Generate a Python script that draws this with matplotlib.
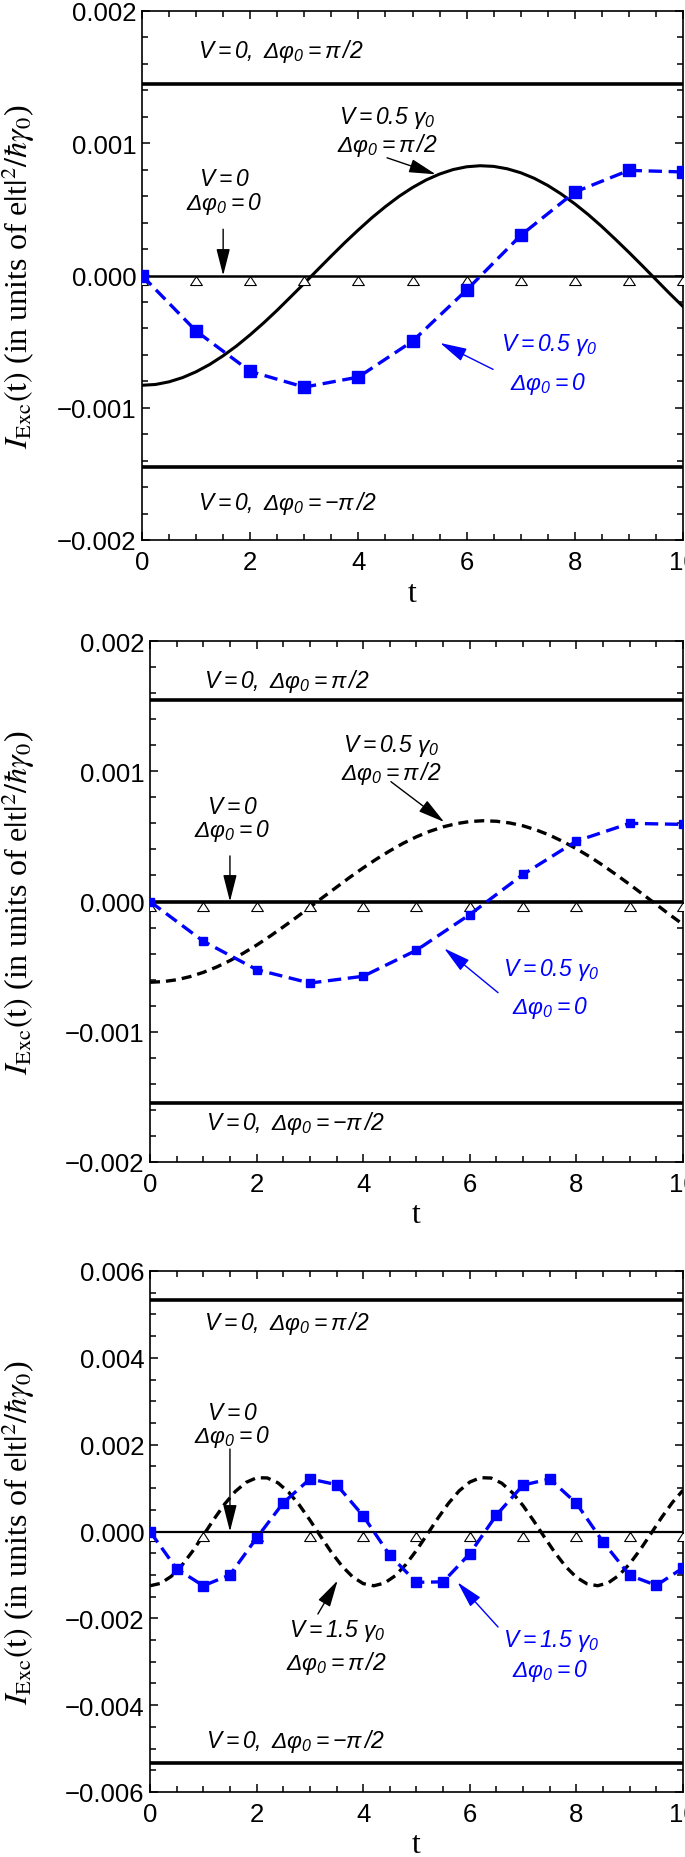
import matplotlib
matplotlib.use("Agg")
import matplotlib.pyplot as plt
from matplotlib.ticker import MultipleLocator, FuncFormatter

plt.rcParams['font.family'] = ['Liberation Sans', 'DejaVu Sans']
plt.rcParams['mathtext.fontset'] = 'custom'
plt.rcParams['mathtext.rm'] = 'Liberation Sans:italic'
plt.rcParams['mathtext.it'] = 'Liberation Sans:italic'
plt.rcParams['mathtext.bf'] = 'Liberation Sans:italic:bold'

BLUE = '#0000ff'

# ---- data ----
t_int = [0, 1, 2, 3, 4, 5, 6, 7, 8, 9, 10]
t_half = [0, 0.5, 1, 1.5, 2, 2.5, 3, 3.5, 4, 4.5, 5, 5.5, 6, 6.5, 7, 7.5, 8, 8.5, 9, 9.5, 10]
t_quarter = [0, 0.25, 0.5, 0.75, 1, 1.25, 1.5, 1.75, 2, 2.25, 2.5, 2.75, 3, 3.25, 3.5, 3.75,
             4, 4.25, 4.5, 4.75, 5, 5.25, 5.5, 5.75, 6, 6.25, 6.5, 6.75, 7, 7.25, 7.5, 7.75,
             8, 8.25, 8.5, 8.75, 9, 9.25, 9.5, 9.75, 10]
t_fine = [0.0, 0.2, 0.4, 0.6, 0.8, 1.0, 1.2, 1.4, 1.6, 1.8, 2.0, 2.2, 2.4, 2.6, 2.8,
          3.0, 3.2, 3.4, 3.6, 3.8, 4.0, 4.2, 4.4, 4.6, 4.8, 5.0, 5.2, 5.4, 5.6, 5.8,
          6.0, 6.2, 6.4, 6.6, 6.8, 7.0, 7.2, 7.4, 7.6, 7.8, 8.0, 8.2, 8.4, 8.6, 8.8,
          9.0, 9.2, 9.4, 9.6, 9.8, 10.0]

# zero-phase reference (V=0, dphi=0), open triangles
tri_y = [0, 0, 0, 0, 0, 0, 0, 0, 0, 0, 0]

# panel 1: V=0.5 gamma0
levels_1 = [1.45e-3, -1.45e-3]
black_1 = [-0.830e-3, -0.824e-3, -0.804e-3, -0.772e-3, -0.728e-3, -0.673e-3, -0.607e-3,
           -0.532e-3, -0.448e-3, -0.358e-3, -0.262e-3, -0.161e-3, -0.059e-3, 0.045e-3,
           0.148e-3, 0.249e-3, 0.345e-3, 0.437e-3, 0.521e-3, 0.598e-3, 0.665e-3, 0.722e-3,
           0.767e-3, 0.801e-3, 0.822e-3, 0.830e-3, 0.825e-3, 0.807e-3, 0.777e-3, 0.735e-3,
           0.681e-3, 0.616e-3, 0.542e-3, 0.460e-3, 0.370e-3, 0.274e-3, 0.175e-3, 0.073e-3,
           -0.031e-3, -0.135e-3, -0.235e-3]
blue_1 = [0.0, -0.42e-3, -0.725e-3, -0.844e-3, -0.768e-3, -0.497e-3, -0.11e-3,
          0.303e-3, 0.631e-3, 0.795e-3, 0.783e-3]

# panel 2: V=0.5 gamma0 (dashed)
levels_2 = [1.55e-3, -1.55e-3]
black_2 = [-0.620e-3, -0.615e-3, -0.601e-3, -0.577e-3, -0.544e-3, -0.503e-3, -0.454e-3,
           -0.397e-3, -0.335e-3, -0.267e-3, -0.195e-3, -0.121e-3, -0.044e-3, 0.034e-3,
           0.110e-3, 0.186e-3, 0.258e-3, 0.326e-3, 0.389e-3, 0.447e-3, 0.497e-3, 0.539e-3,
           0.573e-3, 0.598e-3, 0.614e-3, 0.620e-3, 0.616e-3, 0.603e-3, 0.581e-3, 0.549e-3,
           0.509e-3, 0.460e-3, 0.405e-3, 0.344e-3, 0.277e-3, 0.205e-3, 0.131e-3, 0.054e-3,
           -0.023e-3, -0.101e-3, -0.176e-3]
blue_2 = [0.0, -0.305e-3, -0.523e-3, -0.626e-3, -0.574e-3, -0.374e-3, -0.10e-3,
          0.208e-3, 0.464e-3, 0.60e-3, 0.592e-3]

# panel 3: V=1.5 gamma0
levels_3 = [5.33e-3, -5.33e-3]
black_3 = [-1.250e-3, -1.194e-3, -1.032e-3, -0.777e-3, -0.453e-3, -0.088e-3, 0.284e-3,
           0.631e-3, 0.922e-3, 1.130e-3, 1.238e-3, 1.234e-3, 1.121e-3, 0.907e-3,
           0.613e-3, 0.264e-3, -0.109e-3, -0.473e-3, -0.793e-3, -1.043e-3, -1.200e-3,
           -1.250e-3, -1.188e-3, -1.020e-3, -0.761e-3, -0.433e-3, -0.068e-3, 0.304e-3,
           0.649e-3, 0.936e-3, 1.139e-3, 1.240e-3, 1.231e-3, 1.112e-3, 0.893e-3,
           0.594e-3, 0.243e-3, -0.130e-3, -0.492e-3, -0.809e-3, -1.055e-3, -1.206e-3,
           -1.249e-3, -1.181e-3, -1.007e-3, -0.744e-3, -0.414e-3, -0.047e-3, 0.325e-3,
           0.667e-3, 0.950e-3]
blue_3 = [0.0, -0.86e-3, -1.25e-3, -1.0e-3, -0.15e-3, 0.66e-3, 1.21e-3, 1.08e-3, 0.36e-3,
          -0.55e-3, -1.17e-3, -1.16e-3, -0.51e-3, 0.38e-3, 1.07e-3, 1.21e-3, 0.65e-3,
          -0.24e-3, -1.01e-3, -1.24e-3, -0.84e-3]

TOP = r'$V=0,\ \Delta\varphi_0=\pi\,/2$'
BOT = r'$V=0,\ \Delta\varphi_0=-\pi\,/2$'
YLAB = r'$I_{\rm Exc}(\rm t)$ (in units of e$|$t$|^2/\hbar\gamma_0$)'

TRI = [(0, 0), (-0.65, -1), (0.65, -1), (0, 0)]

W, H = 685, 1858
fig = plt.figure(figsize=(W / 100, H / 100), dpi=100)


def make_axes(left, top, bottom):
    return fig.add_axes([left / W, 1 - bottom / H, (683 - left) / W, (bottom - top) / H])


def fmt(v, pos):
    s = '%.3f' % v
    if s == '-0.000':
        s = '0.000'
    return s.replace('-', '\u2212')


def style(ax, ylim, major, minor):
    ax.set_xlim(0, 10)
    ax.set_ylim(-ylim, ylim)
    ax.xaxis.set_major_locator(MultipleLocator(2))
    ax.xaxis.set_minor_locator(MultipleLocator(0.5))
    ax.yaxis.set_major_locator(MultipleLocator(major))
    ax.yaxis.set_minor_locator(MultipleLocator(minor))
    ax.yaxis.set_major_formatter(FuncFormatter(fmt))
    ax.tick_params(which='both', direction='in', top=True, right=True, width=1.1, labelsize=18.5)
    ax.tick_params(which='major', length=6)
    ax.tick_params(which='minor', length=4)
    ax.tick_params(axis='x', pad=7)
    ax.tick_params(axis='y', pad=4)
    for sp in ax.spines.values():
        sp.set_linewidth(1.2)


def note(ax, x, y, s, color='k', ha='center'):
    ax.text(x, y, s, color=color, ha=ha, va='center', fontsize=16.5)


def arrow(ax, tail, tip, color='k'):
    ax.annotate('', xy=tip, xytext=tail,
                arrowprops=dict(arrowstyle='-|>,head_length=1.1,head_width=0.28',
                                color=color, lw=1.0, shrinkA=0, shrinkB=0,
                                mutation_scale=15))


def labels(ax, top, bottom):
    mid = (top + bottom) / 2
    fig.text(18 / W, 1 - mid / H, YLAB, rotation=90, ha='center', va='center',
             family=['Liberation Serif', 'DejaVu Serif'], math_fontfamily='stix', fontsize=23)
    fig.text(0.5 * (ax.get_position().x0 + ax.get_position().x1), 1 - (bottom + 53) / H, 't',
             ha='center', va='center', family=['Liberation Serif', 'DejaVu Serif'], fontsize=23)


# ---------- panel 1 ----------
ax1 = make_axes(142, 12, 541)
style(ax1, 0.002, 0.001, 0.0002)
for lv in levels_1:
    ax1.axhline(lv, color='k', lw=2.6)
ax1.axhline(0, color='k', lw=1.8)
ax1.plot(t_quarter, black_1, color='k', lw=2.2)
ax1.plot(t_int, tri_y, ls='none', marker=TRI, ms=13, mfc='white', mec='k', mew=0.8, zorder=3)
ax1.plot(t_int, blue_1, color=BLUE, lw=2.4, ls=(0, (4, 2)), marker='s', ms=8.5, mec=BLUE, zorder=4)
note(ax1, 1.03, 0.0017, TOP, ha='left')
note(ax1, 4.53, 0.0012, r'$V=0.5\ \gamma_0$')
note(ax1, 4.53, 0.00099, r'$\Delta\varphi_0=\pi\,/2$')
arrow(ax1, (4.53, 0.00089), (5.43, 0.000765))
note(ax1, 1.52, 0.00073, r'$V=0$')
note(ax1, 1.52, 0.00055, r'$\Delta\varphi_0=0$')
arrow(ax1, (1.5, 0.00035), (1.5, 0.0))
note(ax1, 7.52, -0.00052, r'$V=0.5\ \gamma_0$', color=BLUE)
note(ax1, 7.5, -0.00081, r'$\Delta\varphi_0=0$', color=BLUE)
arrow(ax1, (6.49, -0.00071), (5.51, -0.00051), color=BLUE)
note(ax1, 1.03, -0.00172, BOT, ha='left')
labels(ax1, 12, 541)

# ---------- panel 2 ----------
ax2 = make_axes(150, 642, 1163)
style(ax2, 0.002, 0.001, 0.0002)
for lv in levels_2:
    ax2.axhline(lv, color='k', lw=2.6)
ax2.axhline(0, color='k', lw=2.6)
ax2.plot(t_quarter, black_2, color='k', lw=2.4, ls=(0, (3, 1.8)))
ax2.plot(t_int, tri_y, ls='none', marker=TRI, ms=13, mfc='white', mec='k', mew=0.8, zorder=3)
ax2.plot(t_int, blue_2, color=BLUE, lw=2.4, ls=(0, (4, 2)), marker='s', ms=5.5, mec=BLUE, zorder=4)
note(ax2, 1.02, 0.0017, TOP, ha='left')
note(ax2, 4.52, 0.0012, r'$V=0.5\ \gamma_0$')
note(ax2, 4.52, 0.00099, r'$\Delta\varphi_0=\pi\,/2$')
arrow(ax2, (4.52, 0.00092), (5.52, 0.00061))
note(ax2, 1.54, 0.00073, r'$V=0$')
note(ax2, 1.54, 0.00055, r'$\Delta\varphi_0=0$')
arrow(ax2, (1.5, 0.00035), (1.5, 0.0))
note(ax2, 7.52, -0.00052, r'$V=0.5\ \gamma_0$', color=BLUE)
note(ax2, 7.5, -0.00081, r'$\Delta\varphi_0=0$', color=BLUE)
arrow(ax2, (6.53, -0.0007), (5.52, -0.00036), color=BLUE)
note(ax2, 1.06, -0.0017, BOT, ha='left')
labels(ax2, 642, 1163)

# ---------- panel 3 ----------
ax3 = make_axes(150, 1272, 1793)
style(ax3, 0.006, 0.002, 0.0005)
for lv in levels_3:
    ax3.axhline(lv, color='k', lw=2.6)
ax3.axhline(0, color='k', lw=1.6)
ax3.plot(t_fine, black_3, color='k', lw=2.4, ls=(0, (3, 1.8)))
ax3.plot(t_int, tri_y, ls='none', marker=TRI, ms=13, mfc='white', mec='k', mew=0.8, zorder=3)
ax3.plot(t_half, blue_3, color=BLUE, lw=2.4, ls=(0, (4, 2)), marker='s', ms=6.5, mec=BLUE, zorder=4)
note(ax3, 1.02, 0.00482, TOP, ha='left')
note(ax3, 1.54, 0.00275, r'$V=0$')
note(ax3, 1.54, 0.00221, r'$\Delta\varphi_0=0$')
arrow(ax3, (1.5, 0.0019), (1.5, 0.0))
note(ax3, 3.52, -0.00228, r'$V=1.5\ \gamma_0$')
note(ax3, 3.5, -0.00301, r'$\Delta\varphi_0=\pi\,/2$')
arrow(ax3, (3.15, -0.0019), (3.52, -0.00113))
note(ax3, 7.53, -0.00251, r'$V=1.5\ \gamma_0$', color=BLUE)
note(ax3, 7.5, -0.0032, r'$\Delta\varphi_0=0$', color=BLUE)
arrow(ax3, (6.53, -0.0022), (5.77, -0.00117), color=BLUE)
note(ax3, 1.06, -0.00482, BOT, ha='left')
labels(ax3, 1272, 1793)

fig.savefig('out.png', dpi=100)
